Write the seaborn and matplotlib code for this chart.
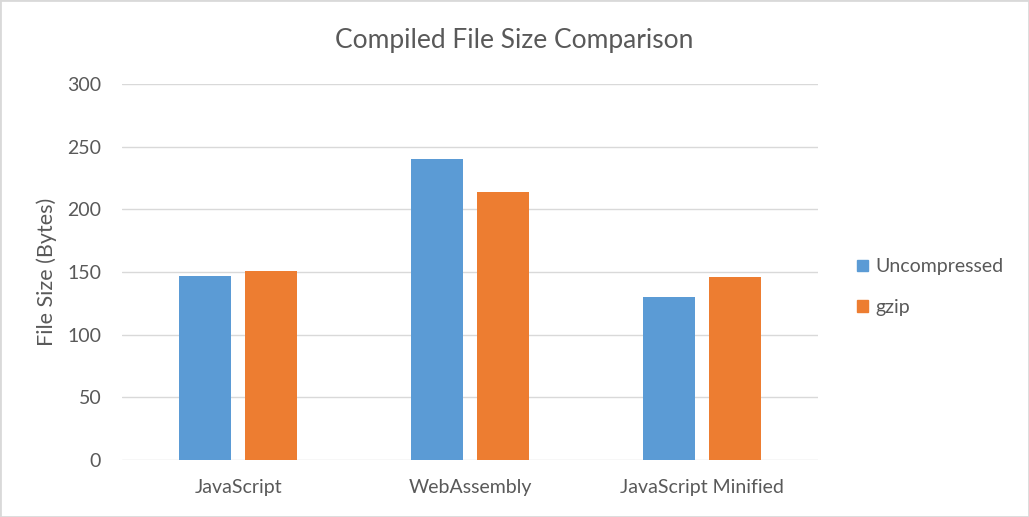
import numpy as np
import pandas as pd
import matplotlib
matplotlib.use("Agg")
import matplotlib.pyplot as plt
import seaborn as sns
from matplotlib.patches import Rectangle

# data
categories = ["JavaScript", "WebAssembly", "JavaScript Minified"]
uncompressed = [147, 240, 130]
gzip_sizes = [151, 214, 146]

BLUE = "#5B9BD5"
ORANGE = "#ED7D31"
TEXT = "#595959"
GRID = "#D9D9D9"

sns.set_style("white")
plt.rcParams["font.family"] = ["Lato", "DejaVu Sans"]

df = pd.DataFrame({
    "category": categories * 2,
    "size": uncompressed + gzip_sizes,
    "kind": ["Uncompressed"] * 3 + ["gzip"] * 3,
})

fig = plt.figure(figsize=(10.29, 5.17), dpi=100)
ax = fig.add_axes([0.1186, 0.1103, 0.795 - 0.1186, 0.8375 - 0.1103])

sns.barplot(data=df, x="category", y="size", hue="kind", ax=ax,
            palette=[BLUE, ORANGE], width=0.569, gap=0.212,
            saturation=1, linewidth=0, legend=False)

ax.set_ylim(0, 300)
ax.set_yticks(np.arange(0, 301, 50))
ax.yaxis.grid(True, color=GRID, linewidth=1)
ax.set_axisbelow(True)
for s in ax.spines.values():
    s.set_visible(False)
ax.tick_params(length=0, colors=TEXT, labelsize=14)
ax.tick_params(axis="y", pad=15)
ax.tick_params(axis="x", pad=14)
ax.set_xlabel("")
ax.set_ylabel("File Size (Bytes)", color=TEXT, fontsize=15.5, labelpad=7)

# title is centred on the whole chart, not the plot area
fig.text(0.4995, 0.9226, "Compiled File Size Comparison", color=TEXT,
         fontsize=19, ha="center", va="center")

# legend on the right
handles = [Rectangle((0, 0), 1, 1, color=BLUE), Rectangle((0, 0), 1, 1, color=ORANGE)]
fig.legend(handles, ["Uncompressed", "gzip"], loc="center left",
           bbox_to_anchor=(0.816, 0.445), frameon=False, fontsize=14,
           labelcolor=TEXT, handlelength=0.55, handleheight=0.55,
           handletextpad=0.4, labelspacing=1.2)

# thin border round the whole chart
fig.patches.append(Rectangle((0, 0), 1, 1, transform=fig.transFigure,
                             fill=False, edgecolor=GRID, linewidth=2))

fig.savefig("out.png", dpi=100)
